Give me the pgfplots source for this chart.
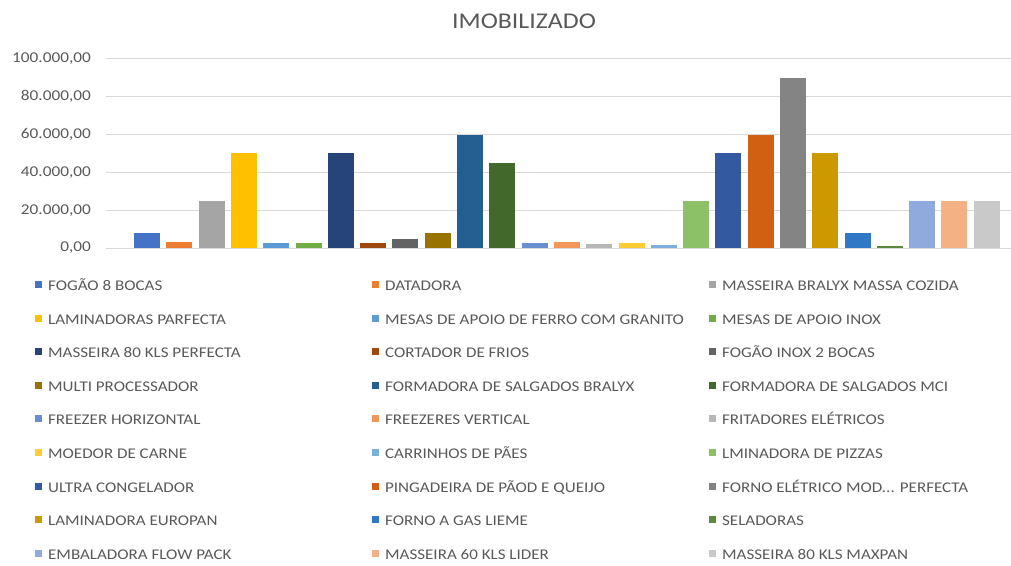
\documentclass[border=0pt]{standalone}
\usepackage{pgfplots}
\pgfplotsset{compat=1.18}
\usepackage{fontspec}
\setmainfont{Carlito}[FakeStretch=1.15]
\definecolor{tgray}{RGB}{89,89,89}
\definecolor{ggray}{RGB}{217,217,217}
\definecolor{c1}{HTML}{4472C4}
\definecolor{c2}{HTML}{ED7D31}
\definecolor{c3}{HTML}{A5A5A5}
\definecolor{c4}{HTML}{FFC000}
\definecolor{c5}{HTML}{5B9BD5}
\definecolor{c6}{HTML}{70AD47}
\definecolor{c7}{HTML}{264478}
\definecolor{c8}{HTML}{9E480E}
\definecolor{c9}{HTML}{636363}
\definecolor{c10}{HTML}{997300}
\definecolor{c11}{HTML}{255E91}
\definecolor{c12}{HTML}{43682B}
\definecolor{c13}{HTML}{698ED0}
\definecolor{c14}{HTML}{F1975A}
\definecolor{c15}{HTML}{B7B7B7}
\definecolor{c16}{HTML}{FFCD33}
\definecolor{c17}{HTML}{7CAFDD}
\definecolor{c18}{HTML}{8CC168}
\definecolor{c19}{HTML}{335AA1}
\definecolor{c20}{HTML}{D26012}
\definecolor{c21}{HTML}{848484}
\definecolor{c22}{HTML}{CC9A00}
\definecolor{c23}{HTML}{2E78C6}
\definecolor{c24}{HTML}{5A8A3C}
\definecolor{c25}{HTML}{8FAADC}
\definecolor{c26}{HTML}{F4B183}
\definecolor{c27}{HTML}{C9C9C9}
\newcommand{\lgd}[1]{\hspace*{6pt}\makebox[324pt][l]{\rule[-12.1pt]{0pt}{33.6pt}#1}}
\begin{document}
\begin{tikzpicture}
\begin{axis}[
  at={(106pt,317pt)}, anchor=south west,
  scale only axis, width=905pt, height=189pt,
  xmin=-1.27, xmax=26.75, ymin=0, ymax=100000,
  xtick=\empty,
  ytick={0,20000,40000,60000,80000,100000},
  yticklabels={{0,00},{20.000,00},{40.000,00},{60.000,00},{80.000,00},{100.000,00}},
  scaled y ticks=false,
  major tick length=0pt,
  yticklabel style={font=\fontsize{15}{15}\selectfont, text=tgray, inner sep=0pt, xshift=-15pt},
  axis line style={draw=none},
  ymajorgrids, grid style={ggray, line width=1pt},
  mybar/.style={ybar, bar width=26pt, draw=none, fill=#1,
    legend image code/.code={\fill[##1] (0pt,-7.5pt) rectangle (7pt,-0.5pt);}},
  legend columns=3,
  legend style={at={(-0.0785,-0.1095)}, anchor=north west, draw=none, fill=none,
    inner sep=0pt, column sep=0pt, row sep=10.6pt,
    font=\fontsize{14.8}{14.8}\selectfont, text=tgray,
    nodes={inner sep=0pt}},
  legend cell align=left,
]
\addplot[mybar=c1] coordinates {(0,8000)}; \addlegendentry{\lgd{FOGÃO 8 BOCAS}}
\addplot[mybar=c2] coordinates {(1,3000)}; \addlegendentry{\lgd{DATADORA}}
\addplot[mybar=c3] coordinates {(2,25000)}; \addlegendentry{\lgd{MASSEIRA BRALYX MASSA COZIDA}}
\addplot[mybar=c4] coordinates {(3,50000)}; \addlegendentry{\lgd{LAMINADORAS PARFECTA}}
\addplot[mybar=c5] coordinates {(4,2500)}; \addlegendentry{\lgd{MESAS DE APOIO DE FERRO COM GRANITO}}
\addplot[mybar=c6] coordinates {(5,2500)}; \addlegendentry{\lgd{MESAS DE APOIO INOX}}
\addplot[mybar=c7] coordinates {(6,50000)}; \addlegendentry{\lgd{MASSEIRA 80 KLS PERFECTA}}
\addplot[mybar=c8] coordinates {(7,2500)}; \addlegendentry{\lgd{CORTADOR DE FRIOS}}
\addplot[mybar=c9] coordinates {(8,5000)}; \addlegendentry{\lgd{FOGÃO INOX 2 BOCAS}}
\addplot[mybar=c10] coordinates {(9,8000)}; \addlegendentry{\lgd{MULTI PROCESSADOR}}
\addplot[mybar=c11] coordinates {(10,60000)}; \addlegendentry{\lgd{FORMADORA DE SALGADOS BRALYX}}
\addplot[mybar=c12] coordinates {(11,45000)}; \addlegendentry{\lgd{FORMADORA DE SALGADOS MCI}}
\addplot[mybar=c13] coordinates {(12,2500)}; \addlegendentry{\lgd{FREEZER HORIZONTAL}}
\addplot[mybar=c14] coordinates {(13,3000)}; \addlegendentry{\lgd{FREEZERES VERTICAL}}
\addplot[mybar=c15] coordinates {(14,2200)}; \addlegendentry{\lgd{FRITADORES ELÉTRICOS}}
\addplot[mybar=c16] coordinates {(15,2500)}; \addlegendentry{\lgd{MOEDOR DE CARNE}}
\addplot[mybar=c17] coordinates {(16,1700)}; \addlegendentry{\lgd{CARRINHOS DE PÃES}}
\addplot[mybar=c18] coordinates {(17,25000)}; \addlegendentry{\lgd{LMINADORA DE PIZZAS}}
\addplot[mybar=c19] coordinates {(18,50000)}; \addlegendentry{\lgd{ULTRA CONGELADOR}}
\addplot[mybar=c20] coordinates {(19,60000)}; \addlegendentry{\lgd{PINGADEIRA DE PÃOD E QUEIJO}}
\addplot[mybar=c21] coordinates {(20,90000)}; \addlegendentry{\lgd{FORNO ELÉTRICO MOD... PERFECTA}}
\addplot[mybar=c22] coordinates {(21,50000)}; \addlegendentry{\lgd{LAMINADORA EUROPAN}}
\addplot[mybar=c23] coordinates {(22,8000)}; \addlegendentry{\lgd{FORNO A GAS LIEME}}
\addplot[mybar=c24] coordinates {(23,900)}; \addlegendentry{\lgd{SELADORAS}}
\addplot[mybar=c25] coordinates {(24,25000)}; \addlegendentry{\lgd{EMBALADORA FLOW PACK}}
\addplot[mybar=c26] coordinates {(25,25000)}; \addlegendentry{\lgd{MASSEIRA 60 KLS LIDER}}
\addplot[mybar=c27] coordinates {(26,25000)}; \addlegendentry{\lgd{MASSEIRA 80 KLS MAXPAN}}
\end{axis}
\node[anchor=base, font=\fontsize{22.5}{22.5}\selectfont, text=tgray] at (524pt,536pt) {IMOBILIZADO};
\pgfresetboundingbox
\path (0pt,0pt) rectangle (1011pt,565pt);
\end{tikzpicture}
\end{document}
